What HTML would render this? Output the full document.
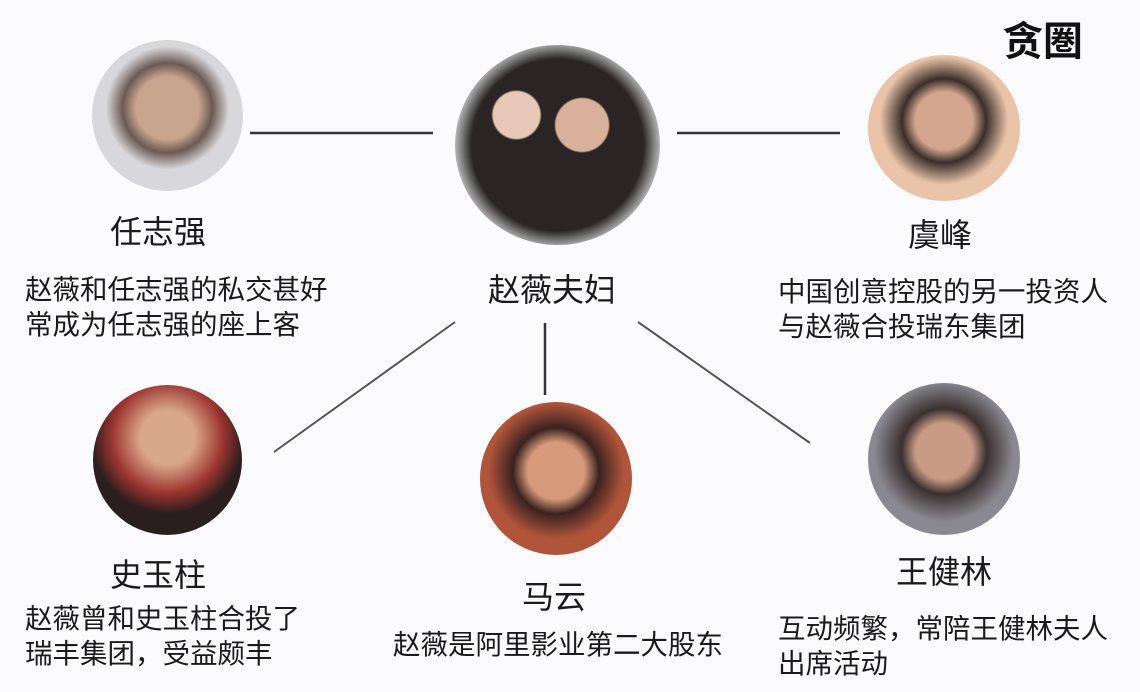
<!DOCTYPE html>
<html><head><meta charset="utf-8"><style>
body{margin:0;width:1140px;height:692px;background:#fbfbfd;position:relative;overflow:hidden;font-family:"Liberation Sans","Noto Sans CJK SC",sans-serif;color:#1a1a1a}
.t{position:absolute;white-space:nowrap;line-height:1}
.n{font-size:32px}
.d{font-size:27.5px;line-height:35px}
.c{position:absolute;border-radius:50%}
</style></head><body>
<svg width="1140" height="692" style="position:absolute;left:0;top:0">
<g stroke="#333" stroke-width="2.5">
<line x1="250" y1="133" x2="433" y2="133"/>
<line x1="677" y1="133" x2="840" y2="133"/>
<line x1="455" y1="322" x2="274" y2="452" stroke="#555" stroke-width="2"/>
<line x1="545" y1="323" x2="545" y2="395"/>
<line x1="638" y1="322" x2="810" y2="443" stroke="#555" stroke-width="2"/>
</g>
</svg>
<div class="c" style="left:92px;top:40px;width:151px;height:151px;background:radial-gradient(circle at 50% 45%,#c9a58e 0 28%,#6b5a52 40%,#d8d8dc 55%)"></div>
<div class="c" style="left:455px;top:45px;width:205px;height:200px;background:radial-gradient(circle at 30% 35%,#e8c9b8 0 12%,transparent 13%),radial-gradient(circle at 62% 40%,#d9b09a 0 15%,transparent 16%),radial-gradient(circle at 50% 50%,#2a2424 0 60%,#bbb 72%)"></div>
<div class="c" style="left:868px;top:55px;width:152px;height:146px;background:radial-gradient(circle at 50% 45%,#d4a68e 0 26%,#3a2e2a 38%,#e9c4a8 58%)"></div>
<div class="c" style="left:93px;top:385px;width:149px;height:150px;background:radial-gradient(circle at 50% 35%,#d9a88a 0 22%,#9e3530 45%,#2a1e1e 62%)"></div>
<div class="c" style="left:480px;top:402px;width:152px;height:153px;background:radial-gradient(circle at 50% 45%,#d89a7a 0 25%,#3a2220 38%,#b0543a 60%)"></div>
<div class="c" style="left:868px;top:383px;width:152px;height:152px;background:radial-gradient(circle at 50% 45%,#c99a84 0 25%,#3a3030 38%,#8a8890 62%)"></div>
<div class="t" style="left:1003px;top:22px;font-size:40px;font-weight:bold;color:#111">贪圏</div>
<div class="t n" style="left:110px;top:216px">任志强</div>
<div class="t n" style="left:488px;top:274px">赵薇夫妇</div>
<div class="t n" style="left:908px;top:219px">虞峰</div>
<div class="t n" style="left:110px;top:559px">史玉柱</div>
<div class="t n" style="left:522px;top:581px">马云</div>
<div class="t n" style="left:896px;top:556px">王健林</div>
<div class="t d" style="left:25px;top:272px">赵薇和任志强的私交甚好<br>常成为任志强的座上客</div>
<div class="t d" style="left:778px;top:274px">中国创意控股的另一投资人<br>与赵薇合投瑞东集团</div>
<div class="t d" style="left:25px;top:601px">赵薇曾和史玉柱合投了<br>瑞丰集团，受益颇丰</div>
<div class="t d" style="left:393px;top:627px">赵薇是阿里影业第二大股东</div>
<div class="t d" style="left:778px;top:611px">互动频繁，常陪王健林夫人<br>出席活动</div>
</body></html>
